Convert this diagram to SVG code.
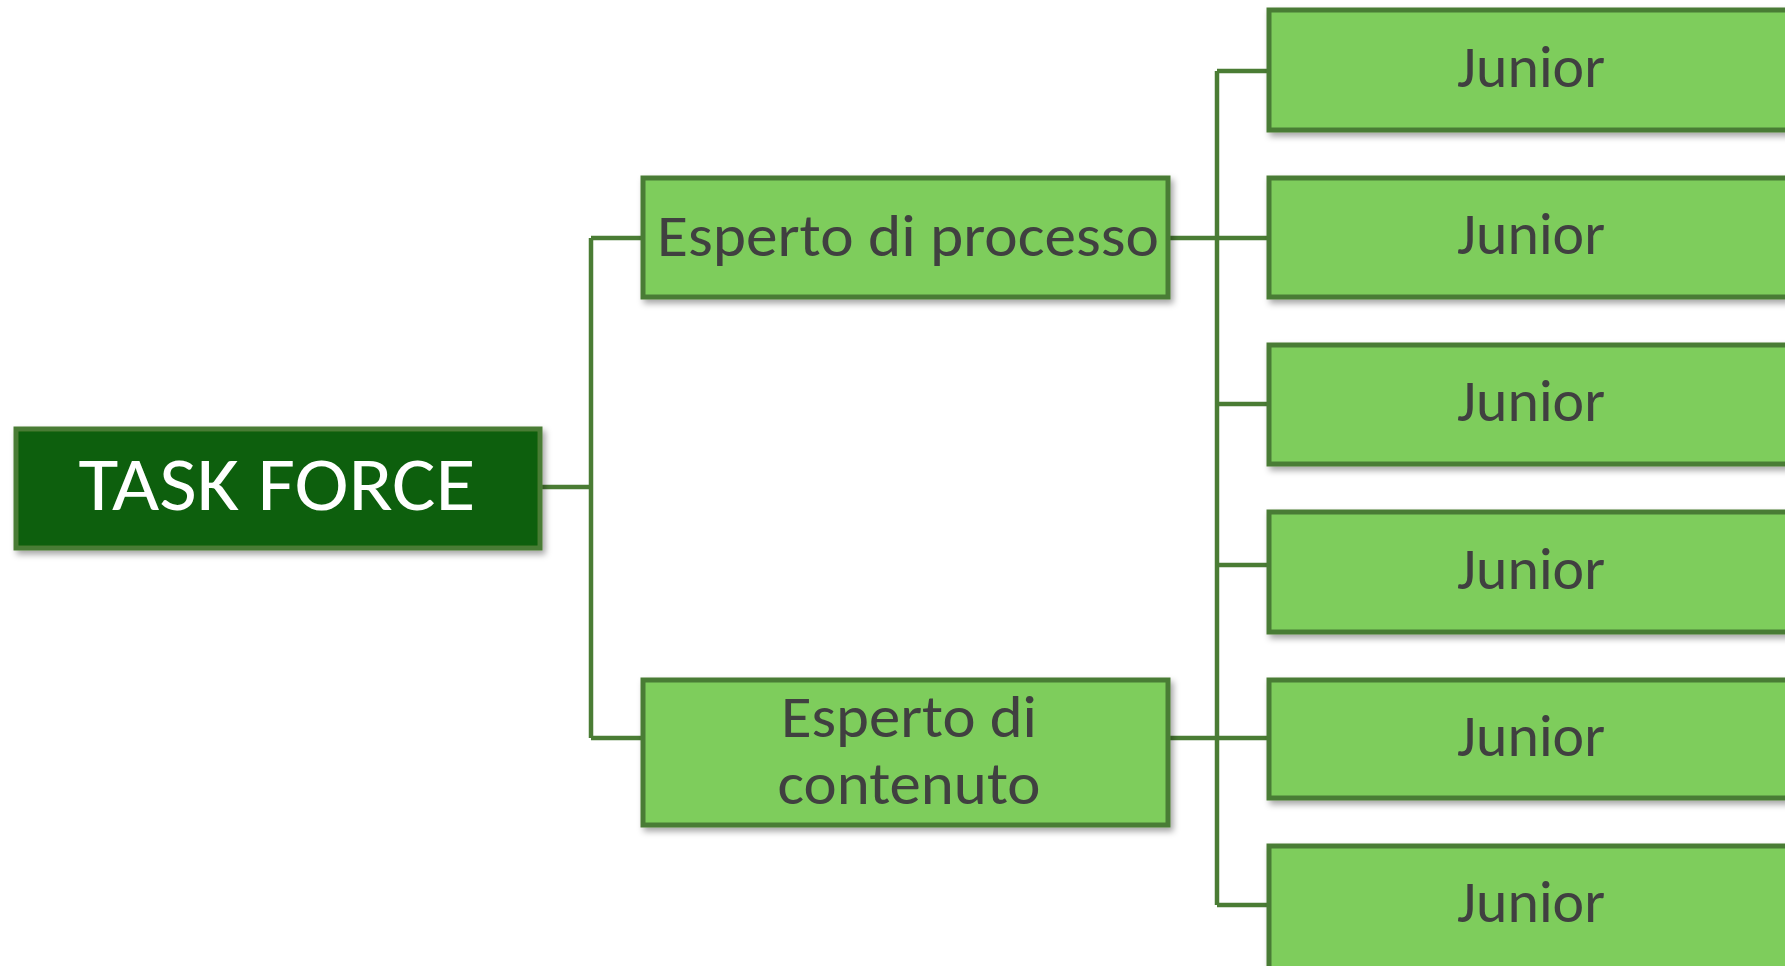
<svg xmlns="http://www.w3.org/2000/svg" width="1785" height="966" viewBox="0 0 1785 966">
<style>
.box{fill:#7ecd5c;stroke:#4a7c34;stroke-width:5;filter:url(#sh)}
.root{fill:#0b5e0b;stroke:#4a7c34;stroke-width:5;filter:url(#sh)}
.t{font-family:Carlito,"Open Sans","Noto Sans",sans-serif;font-size:59px;fill:#404040;text-anchor:middle}
.tw{font-family:Carlito,"Open Sans","Noto Sans",sans-serif;font-size:76px;fill:#ffffff;text-anchor:middle}
.c{fill:none;stroke:#4a7c34;stroke-width:4.5}
</style>
<defs>
<filter id="sh" x="-10%" y="-20%" width="130%" height="150%">
<feDropShadow dx="3" dy="4" stdDeviation="3" flood-color="#000" flood-opacity="0.35"/>
</filter>
</defs>
<rect width="1785" height="966" fill="#fff"/>
<g id="connectors">
<path class="c" d="M540,487 H591 M591,238 V738 M591,238 H643 M591,738 H643"/>
<path class="c" d="M1168,238 H1269 M1168,738 H1217 M1217,71 V905 M1217,71 H1269 M1217,404 H1269 M1217,565 H1269 M1217,738 H1269 M1217,905 H1269"/>
</g>
<g id="task-force">
<rect class="root" x="16" y="429" width="524" height="119"/>
<text class="tw" x="277" y="510" textLength="397" lengthAdjust="spacingAndGlyphs">TASK FORCE</text>
</g>
<g id="esperto-processo">
<rect class="box" x="643" y="178" width="525" height="119"/>
<text class="t" x="908" y="256" textLength="502" lengthAdjust="spacingAndGlyphs">Esperto di processo</text>
</g>
<g id="esperto-contenuto">
<rect class="box" x="643" y="680" width="525" height="145"/>
<text class="t" x="909" y="737" textLength="256" lengthAdjust="spacingAndGlyphs">Esperto di</text>
<text class="t" x="909" y="804" textLength="263" lengthAdjust="spacingAndGlyphs">contenuto</text>
</g>
<g id="junior-1">
<rect class="box" x="1269" y="10" width="530" height="120"/>
<text class="t" x="1531" y="87" textLength="148" lengthAdjust="spacingAndGlyphs">Junior</text>
</g>
<g id="junior-2">
<rect class="box" x="1269" y="178" width="530" height="119"/>
<text class="t" x="1531" y="254" textLength="148" lengthAdjust="spacingAndGlyphs">Junior</text>
</g>
<g id="junior-3">
<rect class="box" x="1269" y="345" width="530" height="119"/>
<text class="t" x="1531" y="421" textLength="148" lengthAdjust="spacingAndGlyphs">Junior</text>
</g>
<g id="junior-4">
<rect class="box" x="1269" y="512" width="530" height="120"/>
<text class="t" x="1531" y="589" textLength="148" lengthAdjust="spacingAndGlyphs">Junior</text>
</g>
<g id="junior-5">
<rect class="box" x="1269" y="680" width="530" height="118"/>
<text class="t" x="1531" y="756" textLength="148" lengthAdjust="spacingAndGlyphs">Junior</text>
</g>
<g id="junior-6">
<rect class="box" x="1269" y="846" width="530" height="130"/>
<text class="t" x="1531" y="922" textLength="148" lengthAdjust="spacingAndGlyphs">Junior</text>
</g>
</svg>
